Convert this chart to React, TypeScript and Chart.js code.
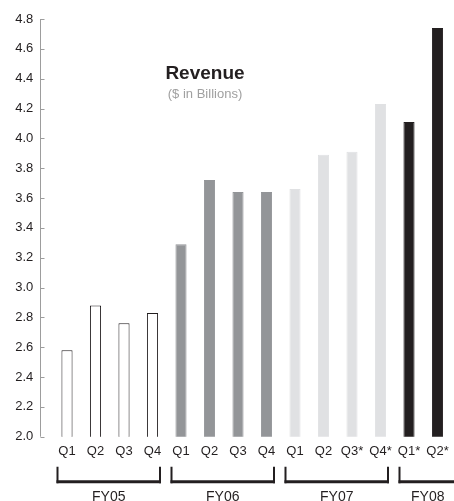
import { useEffect, useRef } from "react";
import { Chart, registerables } from "chart.js";

Chart.register(...registerables);

const quarters = ["Q1", "Q2", "Q3", "Q4", "Q1", "Q2", "Q3", "Q4", "Q1", "Q2", "Q3*", "Q4*", "Q1*", "Q2*"];
const revenue = [2.58, 2.88, 2.76, 2.83, 3.29, 3.72, 3.64, 3.64, 3.66, 3.89, 3.91, 4.23, 4.11, 4.74];
const fiscalYears = ["FY05", "FY06", "FY07", "FY08"];
const quartersPerYear = [4, 4, 4, 2];
const yearFill = ["#ffffff", "#939598", "#e0e1e3", "#231f20"];
const yearBorder = ["#231f20", "#939598", "#e0e1e3", "#231f20"];
const yMin = 2.0;
const yMax = 4.8;
const yStep = 0.2;
const titleText = "Revenue";
const subtitleText = "($ in Billions)";

const FONT = "'Liberation Sans', Arial, Helvetica, sans-serif";
const INK = "#231f20";

function yearOfIndex(i: number): number {
  let acc = 0;
  for (let g = 0; g < quartersPerYear.length; g++) {
    acc += quartersPerYear[g];
    if (i < acc) return g;
  }
  return quartersPerYear.length - 1;
}

const decorPlugin = {
  id: "decor",
  afterDraw(chart: any) {
    const { ctx, chartArea, scales } = chart;
    const ys = scales.y;
    const xs = scales.x;
    ctx.save();
    // y axis line + inward ticks
    const axisX = chartArea.left - 12.25;
    ctx.strokeStyle = "#9d9d9d";
    ctx.lineWidth = 1;
    ctx.beginPath();
    ctx.moveTo(axisX, ys.getPixelForValue(yMax));
    ctx.lineTo(axisX, ys.getPixelForValue(yMin));
    ys.ticks.forEach((t: any) => {
      const py = Math.round(ys.getPixelForValue(t.value)) + 0.5;
      ctx.moveTo(axisX, py);
      ctx.lineTo(axisX + 4, py);
    });
    ctx.stroke();

    // fiscal year brackets
    let start = 0;
    const bracketTop = chartArea.bottom + 30;
    const bracketBottom = chartArea.bottom + 46.5;
    quartersPerYear.forEach((n, g) => {
      const a = start;
      const b = start + n - 1;
      start += n;
      const left = xs.getPixelForValue(a) - 9.5;
      const right = g === quartersPerYear.length - 1 ? chart.width + 2 : xs.getPixelForValue(b) + 7.5;
      ctx.strokeStyle = INK;
      ctx.lineWidth = 2;
      ctx.beginPath();
      ctx.moveTo(left, bracketTop);
      ctx.lineTo(left, bracketBottom);
      ctx.moveTo(right, bracketTop);
      ctx.lineTo(right, bracketBottom);
      ctx.stroke();
      ctx.lineWidth = 3;
      ctx.beginPath();
      ctx.moveTo(left - 1, bracketBottom - 1.5);
      ctx.lineTo(right + 1, bracketBottom - 1.5);
      ctx.stroke();
      ctx.fillStyle = INK;
      ctx.font = `14px ${FONT}`;
      ctx.textAlign = "center";
      ctx.textBaseline = "alphabetic";
      ctx.fillText(fiscalYears[g], (left + right) / 2, chartArea.bottom + 64);
    });

    // title
    ctx.textAlign = "center";
    ctx.textBaseline = "alphabetic";
    ctx.fillStyle = INK;
    ctx.font = `bold 19px ${FONT}`;
    ctx.fillText(titleText, 205, 79);
    ctx.fillStyle = "#a0a0a0";
    ctx.font = `13px ${FONT}`;
    ctx.fillText(subtitleText, 205, 97.5);
    ctx.restore();
  },
};

export default function App() {
  const ref = useRef<HTMLCanvasElement | null>(null);
  useEffect(() => {
    if (!ref.current) return;
    const chart = new Chart(ref.current, {
      type: "bar",
      data: {
        labels: quarters,
        datasets: [
          {
            data: revenue,
            backgroundColor: revenue.map((_, i) => yearFill[yearOfIndex(i)]),
            borderColor: revenue.map((_, i) => yearBorder[yearOfIndex(i)]),
            borderWidth: 1,
            borderSkipped: false,
            barPercentage: 0.39,
            categoryPercentage: 1,
          },
        ],
      },
      options: {
        animation: false,
        responsive: false,
        layout: { padding: { left: 0, right: 2.25, top: 19, bottom: 0 } },
        plugins: {
          legend: { display: false },
          tooltip: { enabled: false },
          title: { display: false },
        },
        scales: {
          x: {
            offset: true,
            grid: { display: false, drawTicks: true, tickLength: 7 },
            border: { display: false },
            ticks: {
              color: INK,
              font: { family: FONT, size: 13 },
              padding: 0,
              maxRotation: 0,
              autoSkip: false,
            },
            afterFit(scale: any) {
              scale.height = 64.3;
            },
          },
          y: {
            min: yMin,
            max: yMax,
            grid: { display: false, drawTicks: true, tickLength: 19.5 },
            border: { display: false },
            ticks: {
              stepSize: yStep,
              color: INK,
              font: { family: FONT, size: 13 },
              padding: 0,
              callback: (v: any) => Number(v).toFixed(1),
            },
            afterFit(scale: any) {
              scale.width = 52.75;
            },
          },
        },
      },
      plugins: [decorPlugin],
    });
    return () => chart.destroy();
  }, []);
  return (
    <div style={{ position: "absolute", left: 0, top: 0, width: 454, height: 501, background: "#fff" }}>
      <canvas ref={ref} width={454} height={501} style={{ display: "block" }} />
    </div>
  );
}
